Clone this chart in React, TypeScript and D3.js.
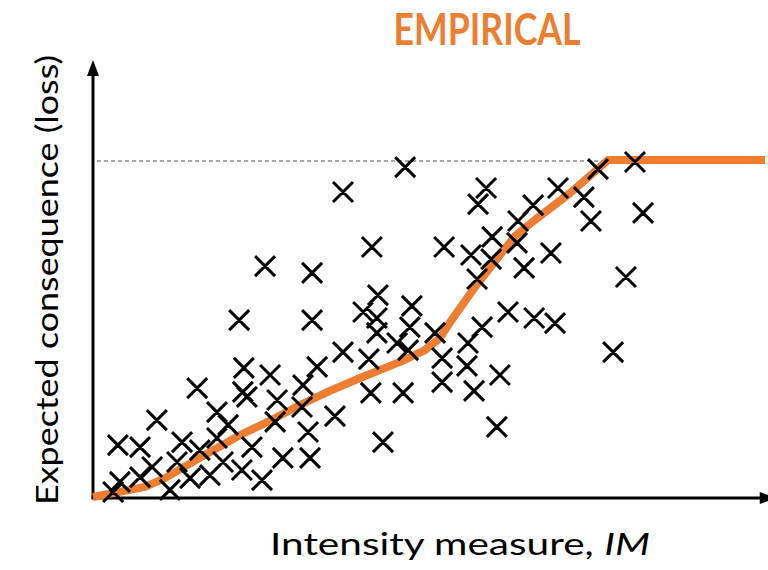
import React, { useEffect } from "react";
import * as d3 from "d3";

// Empirical fit (orange line): intensity measure vs expected loss (normalised, 1 = total loss)
const lineIM = [0, 0.155, 0.214, 0.318, 0.438, 0.527, 0.616, 0.705, 0.795, 0.914, 0.988, 1.033, 1.063, 1.137, 1.211, 1.256, 1.315, 1.42, 1.533, 2.0];
const lineLoss = [0, 0.03, 0.056, 0.116, 0.184, 0.226, 0.273, 0.315, 0.353, 0.401, 0.436, 0.472, 0.519, 0.623, 0.718, 0.774, 0.822, 0.902, 1.0, 1.0];

// Observed damage data (crosses)
const crossIM = [
  0.929, 1.613, 1.503, 0.744, 1.384, 1.17, 1.461, 1.146, 1.31, 1.637,
  1.265, 1.482, 1.188, 1.045, 0.83, 1.262, 1.125, 1.363, 1.185, 0.512,
  1.283, 0.652, 1.586, 1.143, 0.848, 0.949, 1.235, 0.804, 1.313, 0.435,
  0.652, 0.845, 1.375, 1.158, 0.943, 1.018, 0.845, 0.905, 1.116, 0.938,
  0.744, 1.548, 1.039, 0.821, 1.113, 0.667, 0.449, 1.211, 0.527, 1.039,
  0.625, 0.31, 1.134, 0.827, 0.923, 0.446, 0.458, 0.548, 0.622, 0.369,
  0.72, 0.19, 0.542, 0.402, 1.202, 0.64, 0.369, 0.074, 0.14, 0.265,
  0.863, 0.318, 0.473, 0.176, 0.25, 0.387, 0.565, 0.646, 0.14, 0.289,
  0.348, 0.443, 0.08, 0.503, 0.229, 0.06,
];
const crossLoss = [
  0.979, 0.994, 0.973, 0.905, 0.917, 0.917, 0.89, 0.869, 0.866, 0.843,
  0.819, 0.819, 0.772, 0.742, 0.742, 0.754, 0.718, 0.724, 0.706, 0.685,
  0.68, 0.665, 0.653, 0.647, 0.599, 0.567, 0.549, 0.549, 0.531, 0.525,
  0.525, 0.531, 0.516, 0.504, 0.504, 0.487, 0.487, 0.457, 0.457, 0.436,
  0.43, 0.43, 0.412, 0.409, 0.389, 0.386, 0.383, 0.362, 0.362, 0.341,
  0.332, 0.323, 0.315, 0.309, 0.309, 0.312, 0.297, 0.288, 0.267, 0.252,
  0.24, 0.228, 0.223, 0.214, 0.208, 0.193, 0.175, 0.154, 0.148, 0.163,
  0.163, 0.139, 0.148, 0.089, 0.104, 0.104, 0.116, 0.116, 0.059, 0.056,
  0.065, 0.08, 0.045, 0.05, 0.021, 0.015,
];

const capLoss = 1.0;
const titleText = "EMPIRICAL";
const xLabelText = "Intensity measure, ";
const xLabelItalic = "IM";
const yLabelText = "Expected consequence (loss)";

const ORANGE = "#ED7D31";
const FONT = "Lato, 'Open Sans', sans-serif";

export default function App() {
  useEffect(() => {
    document.body.style.margin = "0";
  }, []);

  const W = 768;
  const H = 570;
  const x = d3.scaleLinear().domain([0, 2]).range([93, 765]);
  const y = d3.scaleLinear().domain([0, 1]).range([497, 160]);

  const line = d3
    .line<number>()
    .x((_, i) => x(lineIM[i]))
    .y((_, i) => y(lineLoss[i]))
    .curve(d3.curveLinear);

  const x0 = x(0);
  const y0 = y(0) + 1;
  const yTop = y(1.297);
  const xRight = x(2.02);
  const arm = 10;

  const crosses = crossIM
    .map((v, i) => {
      const cx = x(v);
      const cy = y(crossLoss[i]);
      return `M${cx - arm},${cy - arm}L${cx + arm},${cy + arm}M${cx - arm},${cy + arm}L${cx + arm},${cy - arm}`;
    })
    .join("");

  return (
    <svg width={W} height={H} viewBox={`0 0 ${W} ${H}`} style={{ display: "block", background: "#fff" }}>
      {/* title */}
      <text
        x={487}
        y={45}
        textAnchor="middle"
        fill={ORANGE}
        fontFamily={FONT}
        fontWeight={700}
        fontSize={44}
        textLength={187}
        lengthAdjust="spacingAndGlyphs"
      >
        {titleText}
      </text>

      {/* dashed cap line */}
      <line
        x1={x0 + 4}
        x2={x(1.533)}
        y1={y(capLoss) + 1}
        y2={y(capLoss) + 1}
        stroke="#555"
        strokeWidth={1.2}
        strokeDasharray="4 3"
      />

      {/* axes */}
      <line x1={x0} x2={x0} y1={y0} y2={yTop + 12} stroke="#000" strokeWidth={3} />
      <path d={`M${x0},${yTop}L${x0 - 6},${yTop + 16}L${x0 + 6},${yTop + 16}Z`} fill="#000" />
      <line x1={x0 - 1.5} x2={xRight - 10} y1={y0} y2={y0} stroke="#000" strokeWidth={3} />
      <path d={`M${xRight + 4},${y0}L${xRight - 12},${y0 - 6}L${xRight - 12},${y0 + 6}Z`} fill="#000" />

      {/* empirical line */}
      <path d={line(lineIM) || ""} fill="none" stroke={ORANGE} strokeWidth={8} strokeLinejoin="round" strokeLinecap="butt" />

      {/* data */}
      <path d={crosses} fill="none" stroke="#000" strokeWidth={3} />

      {/* axis labels */}
      <text x={460} y={555} textAnchor="middle" fontFamily={FONT} fontSize={31} fill="#000" textLength={380} lengthAdjust="spacingAndGlyphs">
        {xLabelText}
        <tspan fontStyle="italic">{xLabelItalic}</tspan>
      </text>
      <text
        transform={`translate(58,280) rotate(-90)`}
        textAnchor="middle"
        fontFamily={FONT}
        fontSize={31}
        fill="#000"
        textLength={450}
        lengthAdjust="spacingAndGlyphs"
      >
        {yLabelText}
      </text>
    </svg>
  );
}
